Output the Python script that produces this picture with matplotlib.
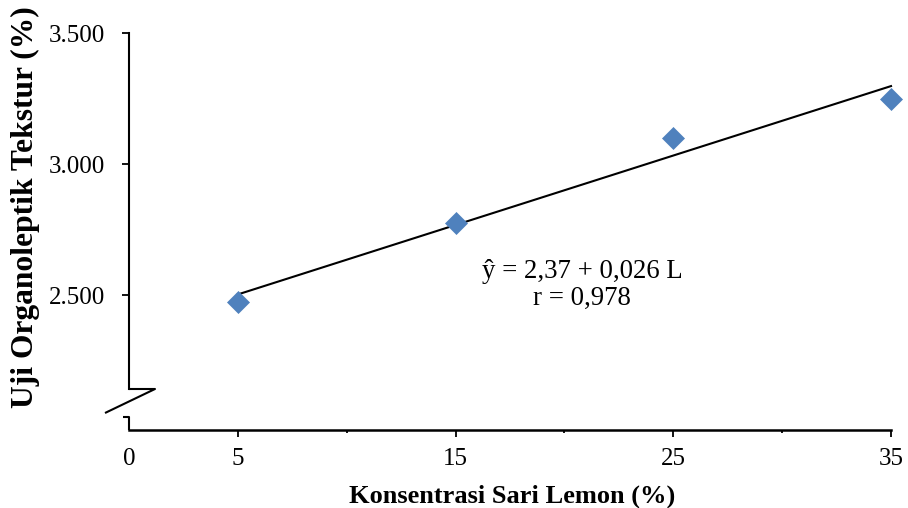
import numpy as np
import matplotlib
matplotlib.use("Agg")
import matplotlib.pyplot as plt
from matplotlib.ticker import FixedLocator, FuncFormatter

# Lemon juice concentration (%) vs. texture organoleptic score
konsentrasi = [5, 15, 25, 35]
tekstur = [2.475, 2.775, 3.100, 3.250]
x_major = [0, 5, 15, 25, 35]
x_minor = [10, 20, 30]
y_ticks = [2.5, 3.0, 3.5]

plt.rcParams["font.family"] = ["Liberation Serif", "DejaVu Serif"]

fig = plt.figure(figsize=(9.08, 5.08), dpi=100)
ax = fig.add_axes([0.1421, 0.1535, 0.8392, 0.7815])

ax.set_xlim(0, 35)
ax.set_ylim(1.985, 3.5)

# linear trend line
slope, intercept = np.polyfit(konsentrasi, tekstur, 1)
xs = np.array([min(konsentrasi), max(konsentrasi)])
ax.plot(xs, intercept + slope * xs, color="black", lw=1.5, zorder=2, clip_on=False)

ax.plot(konsentrasi, tekstur, linestyle="none", marker="D", markersize=11.5,
        color="#4F81BD", markeredgecolor="#4F81BD", markeredgewidth=0.5,
        zorder=3, clip_on=False)

for s in ("top", "right"):
    ax.spines[s].set_visible(False)
ax.spines["bottom"].set_linewidth(1.8)
ax.spines["left"].set_linewidth(1.5)
ax.spines["left"].set_bounds(2.141, 3.5)

ax.xaxis.set_major_locator(FixedLocator(x_major))
ax.xaxis.set_minor_locator(FixedLocator(x_minor))
ax.yaxis.set_major_locator(FixedLocator(y_ticks))
ax.yaxis.set_major_formatter(FuncFormatter(lambda v, p: f"{v:.3f}"))

ax.tick_params(axis="x", which="major", direction="out", length=5, width=1.3,
               pad=8, labelsize=18)
ax.tick_params(axis="x", which="minor", direction="out", length=2.5, width=1.3)
ax.tick_params(axis="y", which="major", direction="out", length=5, width=1.3,
               pad=12, labelsize=18)
ax.xaxis.get_major_ticks()[0].tick1line.set_visible(False)

# axis break marks
kw = dict(color="black", lw=1.5, transform=fig.transFigure, clip_on=False,
          solid_capstyle="butt")
W, H = 908.0, 508.0
def px(x, y):
    return x / W, 1 - y / H
p = [px(129, 389), px(155, 389), px(105, 413)]
fig.add_artist(plt.Line2D([p[0][0], p[1][0], p[2][0]], [p[0][1], p[1][1], p[2][1]], **kw))
q = [px(123, 417), px(129, 417), px(129, 430)]
fig.add_artist(plt.Line2D([q[0][0], q[1][0], q[2][0]], [q[0][1], q[1][1], q[2][1]], **kw))

ax.text(0.5945, 0.365, "ŷ = 2,37 + 0,026 L\nr = 0,978", transform=ax.transAxes,
        ha="center", va="center", fontsize=19.3, linespacing=1.08)

fig.text(0.5638, 0.01, "Konsentrasi Sari Lemon (%)", ha="center", va="baseline",
         fontsize=19, fontweight="bold")
fig.text(0.0275, 0.5925, "Uji Organoleptik Tekstur (%)", ha="center", va="center",
         rotation=90, fontsize=22.7, fontweight="bold")

fig.savefig("out.png", dpi=100)
